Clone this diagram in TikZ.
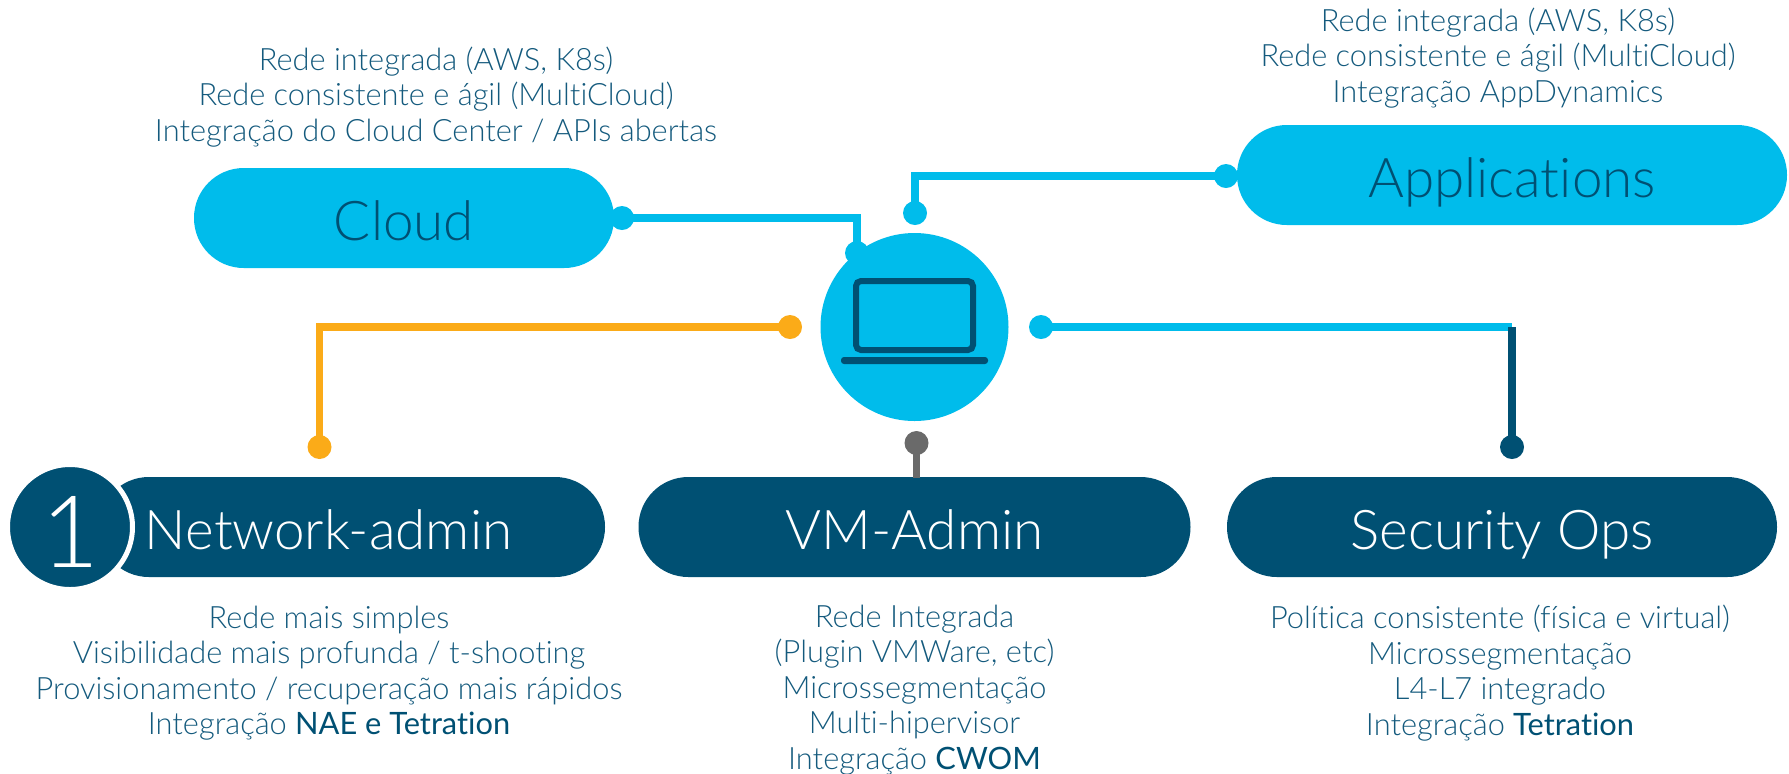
\documentclass[tikz,border=0pt]{standalone}
\usepackage{fontspec}
\setmainfont{Lato}[UprightFont=* Light,Ligatures=NoCommon]
\newfontfamily\strongfont{Lato}[Ligatures=NoCommon]
\definecolor{skycolor}{RGB}{0,188,235}
\definecolor{deepcolor}{RGB}{0,80,115}
\definecolor{ambercolor}{RGB}{251,171,24}
\definecolor{greycolor}{RGB}{106,106,106}
\definecolor{textcolor}{RGB}{20,90,125}
\tikzset{
  pill/.style={rectangle,rounded corners=24.9pt,minimum width=#1,minimum height=50pt,
    inner sep=0pt,text height=22.6pt,text depth=0pt,font=\fontsize{27.4}{32}\selectfont},
  skypill/.style={pill=#1,fill=skycolor,text=deepcolor},
  deeppill/.style={pill=#1,fill=deepcolor,text=white},
  dot/.style={circle,minimum size=12pt,inner sep=0pt,fill=#1},
  note/.style={align=center,text=textcolor,inner sep=0pt,
    font=\fontsize{15.4}{17.7}\selectfont},
  wire/.style={line width=3.8pt,draw=#1}
}
\begin{document}
\begin{tikzpicture}[x=0.5pt,y=-0.5pt]
    \useasboundingbox (0,0) rectangle (1789,773);

    % Draw pills
    \node[skypill=210pt] (cloud) at (404,218) {Cloud};
    \node[skypill=275pt] (applications) at (1512,175) {Applications};
    \node[deeppill=253pt] (network) at (352,527) {Network-admin\kern23.4pt};
    \node[deeppill=276pt] (vmadmin) at (914.5,527) {VM-Admin};
    \node[deeppill=275pt] (security) at (1502,527) {Security Ops};

    % Draw badge
    \node[circle,fill=deepcolor,draw=white,line width=2.5pt,minimum size=62.5pt,inner sep=0pt,
      text height=40pt,text depth=0pt,text=white,font=\fontsize{50}{56}\selectfont] (badge) at (70,527) {1};

    % Draw center circle and laptop
    \node[circle,fill=skycolor,minimum size=94pt,inner sep=0pt] (hub) at (914.5,327) {};
    \node[rectangle,rounded corners=2.5pt,draw=deepcolor,line width=3pt,minimum width=58.5pt,
      minimum height=34.5pt,inner sep=0pt] (screen) at (914.5,315.5) {};
    \node[rectangle,rounded corners=1.5pt,fill=deepcolor,minimum width=73.5pt,
      minimum height=3.5pt,inner sep=0pt] (keyboard) at (914.5,360.5) {};

    % Draw dots
    \node[dot=skycolor] (clouddot) at (622,218) {};
    \node[dot=skycolor] (cloudtip) at (857,253) {};
    \node[dot=skycolor] (appdot) at (1226,176) {};
    \node[dot=skycolor] (apptip) at (915,213) {};
    \node[dot=ambercolor] (networkhub) at (790,327) {};
    \node[dot=ambercolor] (networktip) at (319.5,447) {};
    \node[dot=skycolor] (securityhub) at (1041,327) {};
    \node[dot=deepcolor] (securitytip) at (1512,447) {};
    \node[dot=greycolor] (vmtip) at (916.5,443) {};
    \coordinate (securitybend) at (1512,327);
    \coordinate (vmfoot) at (916.5,478);

    % Draw connectors
    \draw[wire=skycolor] (clouddot.center) -| (cloudtip.center);
    \draw[wire=skycolor] (appdot.center) -| (apptip.center);
    \draw[wire=ambercolor] (networkhub.center) -| (networktip.center);
    \draw[wire=skycolor] (securityhub.center) -- (securitybend);
    \draw[wire=deepcolor] (securitybend) -- (securitytip.center);
    \draw[wire=greycolor] (vmtip.center) -- (vmfoot);

    % Label groups
    \node[note] (cloudnote) at (436,97) {Rede integrada (AWS, K8s)\\Rede consistente e ágil (MultiCloud)\\Integração do Cloud Center / APIs abertas};
    \node[note] (appnote) at (1498,58) {Rede integrada (AWS, K8s)\\Rede consistente e ágil (MultiCloud)\\Integração AppDynamics};
    \node[note] (networknote) at (329,673) {Rede mais simples\\Visibilidade mais profunda / t-shooting\\Provisionamento / recuperação mais rápidos\\Integração {\strongfont\color{deepcolor}NAE e Tetration}};
    \node[note] (vmnote) at (914.5,690) {Rede Integrada\\(Plugin VMWare, etc)\\Microssegmentação\\Multi-hipervisor\\Integração {\strongfont\color{deepcolor}CWOM}};
    \node[note] (securitynote) at (1500,673) {Política consistente (física e virtual)\\Microssegmentação\\L4-L7 integrado\\Integração {\strongfont\color{deepcolor}Tetration}};
\end{tikzpicture}
\end{document}
